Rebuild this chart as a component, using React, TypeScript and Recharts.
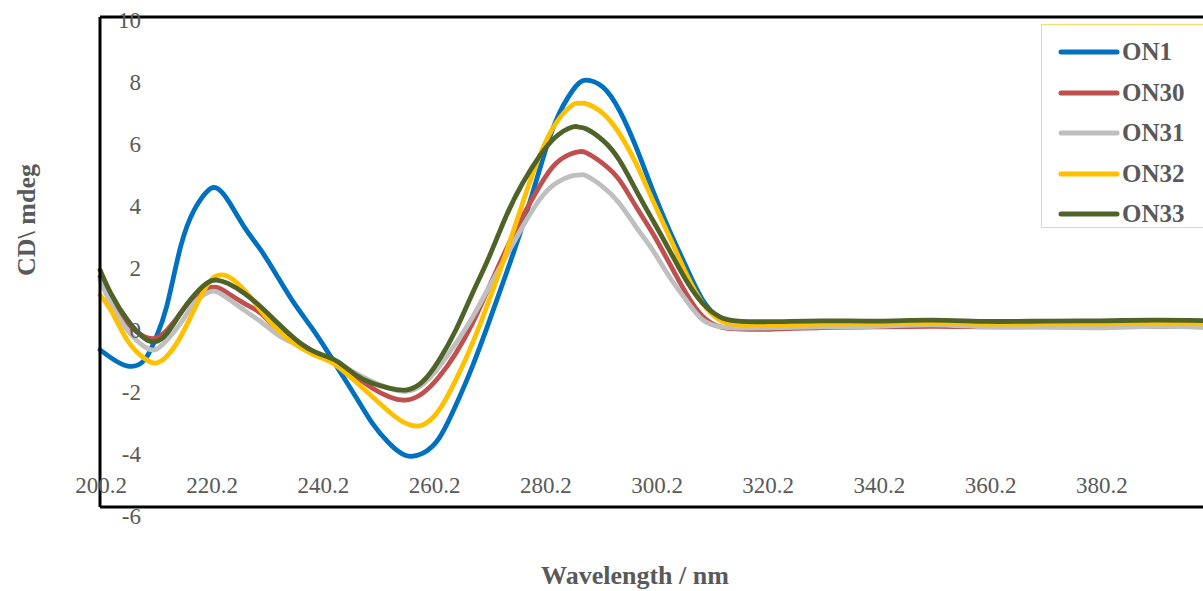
import React from "react";
import { LineChart, Line, XAxis, YAxis, ReferenceLine, Legend } from "recharts";

// CD spectra of the five oligonucleotides (mdeg vs wavelength in nm)
const wavelength = [
  200.2, 202.2, 205.2, 208.2, 210.2, 212.2, 214.7, 217.2, 219.6, 221.2,
  223.2, 226.2, 229.2, 232.2, 235.2, 238.2, 241.2, 243.2, 246.2, 249.2,
  252.2, 255.2, 258.2, 261.2, 264.2, 267.2, 270.2, 273.2, 276.2, 279.2,
  282.2, 285.2, 286.4, 287.6, 290.6, 293.6, 296.6, 299.6, 302.6, 305.6,
  308.6, 311.6, 314.6, 320.6, 330, 340, 350, 360, 370, 380, 390, 400,
];

const on1 = [
  -0.87, -1.13, -1.4, -1.2, -0.5, 0.55, 2.5, 3.72, 4.33, 4.41,
  4.02, 3.13, 2.37, 1.5, 0.63, -0.13, -0.95, -1.53, -2.4, -3.27,
  -3.92, -4.32, -4.25, -3.75, -2.68, -1.4, 0.06, 1.59, 3.19, 4.98,
  6.61, 7.6, 7.85, 7.94, 7.72, 6.96, 5.76, 4.35, 3.04, 1.85,
  0.76, 0.16, 0.0, -0.05, -0.06, -0.05, -0.03, -0.05, -0.05, -0.05, -0.03, -0.05,
];

const on30 = [
  1.52, 0.74, -0.02, -0.44, -0.49, -0.23, 0.33, 0.88, 1.14, 1.17,
  0.98, 0.64, 0.31, -0.23, -0.56, -0.88, -1.2, -1.38, -1.75, -2.12,
  -2.4, -2.51, -2.29, -1.75, -0.98, 0.0, 1.19, 2.39, 3.48, 4.46,
  5.22, 5.55, 5.6, 5.57, 5.22, 4.68, 3.81, 2.94, 1.96, 0.98,
  0.22, -0.11, -0.18, -0.2, -0.14, -0.12, -0.1, -0.12, -0.12, -0.12, -0.1, -0.12,
];

const on31 = [
  1.41, 0.63, -0.24, -0.77, -0.86, -0.56, 0.0, 0.66, 1.0, 1.03,
  0.81, 0.42, 0.04, -0.38, -0.67, -0.94, -1.18, -1.33, -1.63, -1.91,
  -2.12, -2.22, -2.0, -1.42, -0.66, 0.2, 1.19, 2.17, 3.15, 4.02,
  4.57, 4.82, 4.84, 4.82, 4.46, 3.92, 3.15, 2.39, 1.52, 0.76,
  0.11, -0.11, -0.16, -0.15, -0.12, -0.1, -0.05, -0.12, -0.12, -0.15, -0.1, -0.14,
];

const on32 = [
  0.92, 0.41, -0.58, -1.15, -1.3, -1.08, -0.44, 0.47, 1.28, 1.55,
  1.53, 1.07, 0.4, -0.23, -0.67, -0.99, -1.22, -1.45, -1.91, -2.4,
  -2.89, -3.27, -3.32, -2.83, -1.85, -0.65, 0.76, 2.28, 3.92, 5.44,
  6.53, 7.13, 7.18, 7.17, 6.86, 6.2, 5.22, 4.02, 2.83, 1.63,
  0.65, 0.11, -0.04, -0.06, -0.03, -0.02, 0.0, -0.03, -0.02, -0.02, 0.0, -0.02,
];

const on33 = [
  1.74, 0.96, 0.09, -0.49, -0.6, -0.34, 0.33, 0.93, 1.33, 1.41,
  1.3, 0.97, 0.52, 0.0, -0.5, -0.88, -1.1, -1.28, -1.69, -1.96,
  -2.12, -2.18, -1.91, -1.2, -0.22, 0.98, 2.17, 3.48, 4.57, 5.44,
  6.09, 6.41, 6.4, 6.35, 5.98, 5.33, 4.35, 3.37, 2.39, 1.41,
  0.65, 0.22, 0.08, 0.05, 0.08, 0.07, 0.1, 0.06, 0.07, 0.08, 0.1, 0.08,
];

const seriesNames = ["ON1", "ON30", "ON31", "ON32", "ON33"];
const seriesValues = [on1, on30, on31, on32, on33];
const seriesColors = ["#0070C0", "#C0504D", "#BFBFBF", "#FFC000", "#4F6228"];

const xTicks = [200.2, 220.2, 240.2, 260.2, 280.2, 300.2, 320.2, 340.2, 360.2, 380.2];
const yTicks = [-6, -4, -2, 0, 2, 4, 6, 8, 10];

const data = wavelength.map((wl, i) => {
  const row: Record<string, number> = { wl };
  seriesNames.forEach((name, s) => {
    row[name] = seriesValues[s][i];
  });
  return row;
});

const FONT = "'Liberation Serif', 'Times New Roman', serif";
const TEXT_GREY = "#595959";

const YTick = (props: any) => {
  const { x, y, payload } = props;
  const v = Number(payload.value);
  return (
    <text
      x={x + 41}
      y={y + 3 + (10 - v) * 0.375}
      textAnchor="end"
      dominantBaseline="central"
      fontFamily={FONT}
      fontSize={23}
      fill={TEXT_GREY}
    >
      {payload.value}
    </text>
  );
};

const XTick = (props: any) => {
  const { x, y, payload } = props;
  return (
    <text
      x={x + 1}
      y={y - 22}
      textAnchor="middle"
      dominantBaseline="central"
      fontFamily={FONT}
      fontSize={23}
      fill={TEXT_GREY}
    >
      {Number(payload.value).toFixed(1)}
    </text>
  );
};

const LegendBox = (props: any) => {
  const payload = props.payload || [];
  return (
    <div
      style={{
        position: "relative",
        width: 200,
        height: 204,
        border: "1.5px solid #FFD966",
        background: "#fff",
        boxSizing: "border-box",
      }}
    >
      {payload.map((entry: any, i: number) => (
        <div
          key={entry.value}
          style={{
            position: "absolute",
            left: 16,
            top: 7 + i * 40.5,
            height: 40,
            display: "flex",
            alignItems: "center",
          }}
        >
          <svg width={62} height={10} style={{ display: "block" }}>
            <line
              x1={3}
              y1={5}
              x2={59}
              y2={5}
              stroke={entry.color}
              strokeWidth={5}
              strokeLinecap="round"
            />
          </svg>
          <span
            style={{
              fontFamily: FONT,
              fontWeight: "bold",
              fontSize: 25,
              color: TEXT_GREY,
              marginLeft: 2,
              lineHeight: "40px",
            }}
          >
            {entry.value}
          </span>
        </div>
      ))}
    </div>
  );
};

const XTitle = (props: any) => {
  const { viewBox } = props;
  return (
    <text
      x={viewBox.x + viewBox.width / 2 - 21}
      y={575}
      textAnchor="middle"
      dominantBaseline="central"
      fontFamily={FONT}
      fontWeight="bold"
      fontSize={26}
      fill={TEXT_GREY}
    >
      Wavelength / nm
    </text>
  );
};

const YTitle = () => (
  <text
    x={26}
    y={220}
    transform="rotate(-90 26 220)"
    textAnchor="middle"
    dominantBaseline="central"
    fontFamily={FONT}
    fontWeight="bold"
    fontSize={26}
    fill={TEXT_GREY}
  >
    CD\ mdeg
  </text>
);

export default function App() {
  return (
    <div
      style={{
        position: "fixed",
        left: 0,
        top: 0,
        width: 1203,
        height: 591,
        overflow: "hidden",
        background: "#fff",
      }}
    >
      <LineChart
        width={1220}
        height={591}
        data={data}
        margin={{ top: 17, right: 8, bottom: 54, left: 0 }}
      >
        <XAxis
          dataKey="wl"
          type="number"
          domain={[200.2, 400.2]}
          ticks={xTicks}
          tick={<XTick />}
          tickLine={false}
          tickSize={0}
          tickMargin={0}
          height={30}
          axisLine={{ stroke: "#000", strokeWidth: 3 }}
          interval={0}
          label={<XTitle />}
        />
        <YAxis
          type="number"
          domain={[-6, 10]}
          ticks={yTicks}
          tick={<YTick />}
          tickLine={false}
          tickSize={0}
          tickMargin={0}
          width={100}
          axisLine={{ stroke: "#000", strokeWidth: 3 }}
          interval={0}
          label={<YTitle />}
        />
        <ReferenceLine y={10} stroke="#000" strokeWidth={3} />
        {seriesNames.map((name, s) => (
          <Line
            key={name}
            type="natural"
            dataKey={name}
            name={name}
            stroke={seriesColors[s]}
            strokeWidth={4.8}
            strokeLinecap="round"
            strokeLinejoin="round"
            dot={false}
            activeDot={false}
            isAnimationActive={false}
          />
        ))}
        <Legend
          layout="vertical"
          align="center"
          verticalAlign="middle"
          content={<LegendBox />}
          wrapperStyle={{ position: "absolute", left: 1041, top: 24, width: 200 }}
        />
      </LineChart>
    </div>
  );
}
